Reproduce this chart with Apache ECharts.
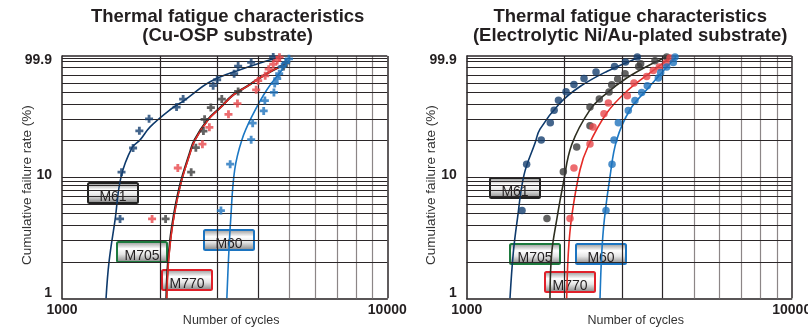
<!DOCTYPE html>
<html>
<head>
<meta charset="utf-8">
<script src="https://cdn.jsdelivr.net/npm/echarts@6/dist/echarts.min.js"></script>
<style>
  html, body { margin: 0; padding: 0; background: #ffffff; }
  #chart { width: 808px; height: 331px; }
</style>
</head>
<body>
<div id="chart"></div>
<script>
// ---- panel titles and labels ----
const panelTitles = [
  'Thermal fatigue characteristics\n(Cu-OSP substrate)',
  'Thermal fatigue characteristics\n(Electrolytic Ni/Au-plated substrate)'
];
const seriesNames = ['M61', 'M705', 'M770', 'M60'];
const xTickValues = [1000, 10000];
const yTickLabels = { 1: '1', 10: '10', 100: '99.9' };
const xGridLines = [2000, 3000, 4000, 5000, 6000, 7000, 8000, 9000, 10000];
const yGridLines = [2, 3, 4, 5, 6, 7, 7.8, 8.6, 9.3, 10, 20, 30, 40, 50, 60, 70, 80, 90, 95, 100];

// ---- Cu-OSP substrate: measured failures [cycles, cumulative %] ----
const osp_M61_pts = [[1508,4.52],[1524,11.0],[1654,17.4],[1729,24.1],[1852,30.3],[2250,37.9],[2357,44.1],
  [2915,56.9],[2999,63.7],[3382,71.4],[3479,82.5],[3815,88.5],[4460,98.1]];
const osp_M705_pts = [[2082,4.52],[2495,11.0],[2579,17.5],[2721,24.0],[2744,30.0],[2868,37.5],[3099,44.1],
  [3479,51.0],[4797,82.0],[4889,87.5]];
const osp_M770_pts = [[1892,4.52],[2270,11.9],[2702,18.7],[2838,25.8],[3249,33.0],[3462,40.5],[3953,52.6],
  [4010,62.6],[4213,68.6],[4319,77.9],[4460,85.5],[4588,92.0],[4662,97.8]];
const osp_M60_pts = [[3080,5.30],[3288,12.8],[3815,20.4],[3856,27.9],[4169,35.2],[4204,42.9],[4482,50.0],
  [4507,59.2],[4588,65.0],[4652,71.4],[4752,81.5],[4873,88.3],[4985,94.8]];

// ---- Cu-OSP substrate: fitted distribution curves ----
const osp_M61_fit = [[1366,1.0],[1395,2.0],[1456,4.44],[1519,10.06],[1642,17.5],[1738,20.3],[1866,26.0],
  [2149,36.0],[2390,43.5],[2854,61.3],[3529,77.1],[4686,98.7]];
const osp_M705_fit = [[2093,1.0],[2117,1.95],[2178,3.91],[2300,8.36],[2470,15.8],[2558,20.3],[2806,29.8],
  [3055,37.2],[3358,47.8],[3702,56.1],[4061,66.2],[4362,74.2],[4795,84.7],[4930,89.5]];
const osp_M770_fit = [[2100,1.0],[2124,1.95],[2185,3.91],[2307,8.36],[2477,15.8],[2566,20.3],[2814,29.8],
  [3063,37.2],[3366,47.8],[3709,56.1],[4067,66.2],[4365,74.2],[4786,84.7],[4857,87.5]];
const osp_M60_fit = [[3212,1.0],[3249,2.07],[3300,4.44],[3395,11.5],[3572,20.3],[3835,31.7],[4264,52.7],
  [4797,79.6],[4994,93.2]];

// ---- Electrolytic Ni/Au-plated substrate: measured failures ----
const niau_M61_pts = [[1480,5.30],[1529,12.8],[1696,20.3],[1808,28.1],[1858,35.6],[1916,43.2],[2021,50.8],
  [2138,58.2],[2296,65.3],[2500,73.7],[2850,82.0],[3080,89.2],[3349,98.1]];
const niau_M705_pts = [[1766,4.55],[1983,11.1],[2180,17.7],[2395,26.5],[2395,37.9],[2559,44.1],[2741,50.4],
  [2794,57.9],[2915,64.6],[3070,71.4],[3382,82.0],[3430,86.3],[3796,91.4],[4125,98.1]];
const niau_M770_pts = [[2079,4.55],[2138,11.9],[2395,18.8],[2447,26.0],[2645,33.3],[2728,40.9],[3120,47.0],
  [3271,59.8],[3580,67.8],[3751,76.0],[3914,81.1],[4105,87.5],[4222,96.2]];
const niau_M60_pts = [[2683,5.30],[2800,12.8],[2840,20.3],[2928,28.1],[3142,35.5],[3294,43.0],[3455,50.0],
  [3595,56.9],[3887,65.8],[3953,73.2],[4125,81.1],[4322,88.5],[4374,98.1]];

// ---- Electrolytic Ni/Au-plated substrate: fitted distribution curves ----
const niau_M61_fit = [[1359,1.0],[1391,2.37],[1431,4.44],[1501,10.45],[1623,19.1],[1681,24.9],[1937,40.9],
  [2232,56.0],[2697,74.6],[3255,93.2],[3414,98.1]];
const niau_M705_fit = [[1804,1.0],[1826,2.36],[1892,4.44],[1983,8.93],[2104,18.5],[2395,35.9],[2697,49.4],
  [3107,65.8],[3580,82.0],[4150,99.0]];
const niau_M770_fit = [[2031,1.0],[2054,2.35],[2104,4.72],[2232,11.5],[2362,17.9],[2697,33.8],[3107,51.0],
  [3664,72.6],[4222,96.2]];
const niau_M60_fit = [[2572,1.0],[2603,2.35],[2651,4.44],[2760,10.1],[2894,20.3],[3180,36.0],[3580,52.7],
  [4322,93.2],[4406,98.7]];

// ---- styling ----
const FONT = '"Liberation Sans", Arial, sans-serif';
const INK = '#231f20';
const colors = {
  M61:  { line: '#0e3a6c', pt: '#153f6f' },
  M705: { line: '#1e1e1e', pt: '#3b3b3b' },
  M770: { line: '#e52b26', pt: '#e8474b' },
  M60:  { line: '#1c78c4', pt: '#1f73bd' }
};
const niauM705Line = '#2e2f20';
const boxBorder = { M61: '#222222', M705: '#1d7a3e', M770: '#e0202a', M60: '#1c74c0' };
const plusPath = 'path://M2.6,0H5.4V2.6H8V5.4H5.4V8H2.6V5.4H0V2.6H2.6Z';

const panels = [
  { left: 62, width: 325.3, pts: [osp_M61_pts, osp_M705_pts, osp_M770_pts, osp_M60_pts],
    fit: [osp_M61_fit, osp_M705_fit, osp_M770_fit, osp_M60_fit],
    symbol: plusPath, symbolSize: 8,
    boxes: { M61: [88, 183], M705: [117, 242], M770: [162, 270], M60: [204, 230] } },
  { left: 466.7, width: 325, pts: [niau_M61_pts, niau_M705_pts, niau_M770_pts, niau_M60_pts],
    fit: [niau_M61_fit, niau_M705_fit, niau_M770_fit, niau_M60_fit],
    symbol: 'circle', symbolSize: 7.5,
    boxes: { M61: [490, 178], M705: [510, 244], M770: [545, 272], M60: [576, 244] } }
];

const grids = [], xAxes = [], yAxes = [], series = [], graphics = [];
const labelRich = (pad) => ({ fontFamily: FONT, fontSize: 14, fontWeight: 'bold', color: INK, padding: pad });

panels.forEach((p, i) => {
  grids.push({ left: p.left, top: 56, width: p.width, height: 242.3, containLabel: false,
    outerBoundsMode: 'none' });
  xAxes.push({
    type: 'log', logBase: 10, min: xTickValues[0], max: xTickValues[1], gridIndex: i,
    name: 'Number of cycles', nameLocation: 'middle', nameGap: 16, nameMoveOverlap: false,
    nameTextStyle: { color: '#333', fontFamily: FONT, fontSize: 12.5, padding: [0, 0, 0, 13] },
    axisLine: { show: true, lineStyle: { color: INK, width: 1.5 } },
    axisTick: { show: false },
    splitLine: { show: false },
    axisLabel: { color: INK, fontFamily: FONT, fontSize: 14, fontWeight: 'bold', margin: 5,
      formatter: v => (xTickValues.indexOf(Math.round(v)) >= 0 ? String(Math.round(v)) : '') }
  });
  yAxes.push({
    type: 'log', logBase: 10, min: 1, max: 100, gridIndex: i,
    name: 'Cumulative failure rate (%)', nameLocation: 'middle', nameGap: 28, nameRotate: 90,
    nameMoveOverlap: false,
    nameTextStyle: { color: '#333', fontFamily: FONT, fontSize: 13.5, padding: [0, 16, 0, 0] },
    axisLine: { show: true, lineStyle: { color: INK, width: 1.5 } },
    axisTick: { show: false },
    splitLine: { show: false },
    axisLabel: {
      margin: 10, fontFamily: FONT, fontSize: 14, fontWeight: 'bold', color: INK,
      formatter: v => {
        const r = Math.round(v);
        const t = yTickLabels[r];
        if (!t || Math.abs(v - r) > 1e-6) return '';
        if (r === 100) return '{top|' + t + '}';
        if (r === 1) return '{bot|' + t + '}';
        return '{mid|' + t + '}';
      },
      rich: { top: labelRich([8, 0, 0, 0]), mid: labelRich([0, 0, 4, 0]), bot: labelRich([0, 0, 11, 0]) }
    }
  });

  // grid lines drawn on the log scales
  series.push({
    type: 'line', xAxisIndex: i, yAxisIndex: i, data: [], silent: true, z: 1,
    markLine: {
      silent: true, symbol: 'none', animation: false, label: { show: false },
      data: xGridLines.map(v => ({ xAxis: v, lineStyle: { type: 'solid', width: v === 10000 ? 1.5 : 1.2,
        color: (v <= 4000 || v === 10000) ? '#2b2628' : '#8c8687' } }))
        .concat(yGridLines.map(v => ({ yAxis: v, lineStyle: { type: 'solid',
          width: v === 100 ? 1.5 : 1.2, color: '#2b2628' } })))
    }
  });

  seriesNames.forEach((name, k) => {
    const lc = (i === 1 && name === 'M705') ? niauM705Line : colors[name].line;
    series.push({
      type: 'line', name: name + '-fit-' + i, xAxisIndex: i, yAxisIndex: i, data: p.fit[k],
      smooth: 0.4, showSymbol: false, silent: true, z: 3 + (name === 'M770' ? 1 : 0),
      lineStyle: { color: lc, width: (i === 0 && name === 'M705') ? 2.2 : 1.6 }
    });
  });
  seriesNames.forEach((name, k) => {
    series.push({
      type: 'scatter', name: name + '-pts-' + i, xAxisIndex: i, yAxisIndex: i, data: p.pts[k],
      symbol: p.symbol, symbolSize: p.symbolSize, z: 5, silent: true,
      itemStyle: { color: colors[name].pt }
    });
  });

  // title
  graphics.push({
    type: 'text', x: p.left + p.width / 2 + (i === 0 ? 3 : 1), y: 7, silent: true,
    style: { text: panelTitles[i], fill: INK, font: 'bold 18.5px ' + FONT, align: 'center',
      lineHeight: 19.5 }
  });

  // sample tags
  seriesNames.forEach(name => {
    const [bx, by] = p.boxes[name];
    graphics.push({
      type: 'group', x: bx, y: by, silent: true, z: 20,
      children: [
        { type: 'rect', shape: { x: 0, y: 0, width: 50, height: 20, r: 1.5 },
          style: { stroke: boxBorder[name], lineWidth: 2,
            fill: { type: 'linear', x: 0, y: 0, x2: 0, y2: 1, colorStops: [
              { offset: 0, color: '#8d8d8d' }, { offset: 0.35, color: '#ffffff' },
              { offset: 0.6, color: '#e6e6e6' }, { offset: 1, color: '#7c7c7c' }] } } },
        { type: 'text', x: 25, y: 7, style: { text: name, fill: '#231f20',
            font: '14px ' + FONT, align: 'center', verticalAlign: 'top' } }
      ]
    });
  });
});

const chart = echarts.init(document.getElementById('chart'), null, { renderer: 'canvas' });
chart.setOption({
  animation: false,
  backgroundColor: '#ffffff',
  grid: grids, xAxis: xAxes, yAxis: yAxes, series: series, graphic: graphics
});
</script>
</body>
</html>
